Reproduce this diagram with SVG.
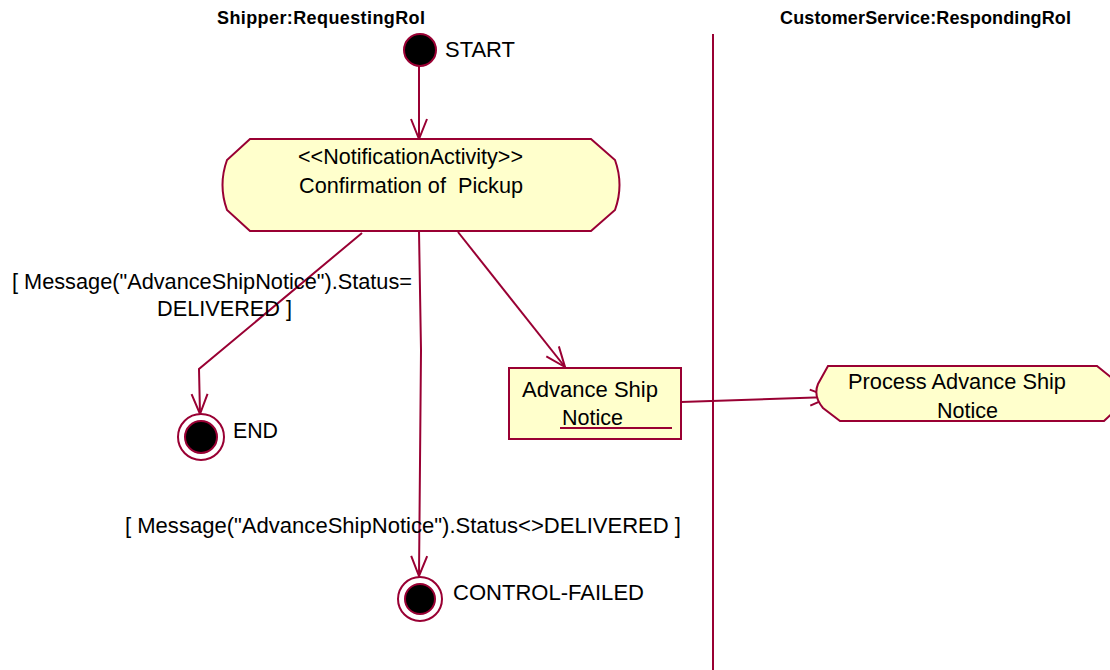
<svg xmlns="http://www.w3.org/2000/svg" width="1110" height="670" viewBox="0 0 1110 670">
  <style>
    .lane { font-family: "Liberation Sans", Arial, sans-serif; font-size: 18px; font-weight: bold; fill: #000; }
    .lbl { font-family: "Liberation Sans", Arial, sans-serif; font-size: 21.5px; fill: #000; white-space: pre; }
    .edge { fill: none; stroke: #990033; stroke-width: 2; }
    .shape { fill: #FFFFCC; stroke: #990033; stroke-width: 2; }
    .dot { fill: #000; stroke: #990033; stroke-width: 2; }
    .ring { fill: #fff; stroke: #990033; stroke-width: 2; }
  </style>
  <defs>
    <marker id="open" viewBox="-22 -10 24 20" refX="0" refY="0" markerWidth="24" markerHeight="20" markerUnits="userSpaceOnUse" orient="auto">
      <path d="M-20,-8 L0,0 L-20,8" fill="none" stroke="#990033" stroke-width="2"/>
    </marker>
  </defs>

  <rect width="1110" height="670" fill="#fff"/>

  <!-- swimlanes -->
  <g id="lanes">
    <text class="lane" x="217" y="24" textLength="208" lengthAdjust="spacing">Shipper:RequestingRol</text>
    <text class="lane" x="780" y="23.5" textLength="291" lengthAdjust="spacing">CustomerService:RespondingRol</text>
    <line x1="713" y1="34" x2="713" y2="670" stroke="#990033" stroke-width="2"/>
  </g>

  <!-- connectors -->
  <g id="connectors">
    <path class="edge" d="M419,66 L419,139" marker-end="url(#open)"/>
    <path class="edge" d="M362,233 L199,369 L200,414" marker-end="url(#open)"/>
    <path class="edge" d="M458,232 L565,367" marker-end="url(#open)"/>
    <path class="edge" d="M419,231 L421,350 L419,576" marker-end="url(#open)"/>
    <path class="edge" d="M681,402 L830,397" marker-end="url(#open)"/>
    <text class="lbl" x="12" y="289" textLength="400" lengthAdjust="spacingAndGlyphs">[ Message("AdvanceShipNotice").Status=</text>
    <text class="lbl" x="157" y="316" textLength="135" lengthAdjust="spacingAndGlyphs">DELIVERED ]</text>
    <text class="lbl" x="125" y="533" textLength="556" lengthAdjust="spacingAndGlyphs">[ Message("AdvanceShipNotice").Status&lt;&gt;DELIVERED ]</text>
  </g>

  <g id="start">
    <circle class="dot" cx="420" cy="50" r="16"/>
    <text class="lbl" x="445" y="57" textLength="70" lengthAdjust="spacingAndGlyphs">START</text>
  </g>

  <g id="confirmation-of-pickup">
    <path class="shape" d="M250,139 L591,139 L615,160 Q624,185 615,210 L591,231 L250,231 L227,210 Q218,185 227,160 Z"/>
    <text class="lbl" x="298" y="164" textLength="225" lengthAdjust="spacingAndGlyphs">&lt;&lt;NotificationActivity&gt;&gt;</text>
    <text class="lbl" x="299" y="193" textLength="224" lengthAdjust="spacingAndGlyphs">Confirmation of  Pickup</text>
  </g>

  <g id="end">
    <circle class="ring" cx="201" cy="437" r="23"/>
    <circle class="dot" cx="201" cy="437" r="16"/>
    <text class="lbl" x="233" y="438" textLength="45" lengthAdjust="spacingAndGlyphs">END</text>
  </g>

  <g id="control-failed">
    <circle class="ring" cx="420" cy="599" r="22"/>
    <circle class="dot" cx="420" cy="599" r="15"/>
    <text class="lbl" x="453" y="600" textLength="191" lengthAdjust="spacingAndGlyphs">CONTROL-FAILED</text>
  </g>

  <g id="advance-ship-notice">
    <rect class="shape" x="509" y="368" width="172" height="71"/>
    <text class="lbl" x="522" y="397" textLength="136" lengthAdjust="spacingAndGlyphs">Advance Ship</text>
    <text class="lbl" x="562" y="425" textLength="61" lengthAdjust="spacingAndGlyphs">Notice</text>
    <line x1="560" y1="428" x2="672" y2="428" stroke="#990033" stroke-width="2"/>
  </g>

  <g id="process-advance-ship-notice">
    <path class="shape" d="M828,366 L1097,366 L1118,383 Q1124,396 1118,408 L1104,421 L840,421 L823,408 Q813,396 818,384 Z"/>
    <text class="lbl" x="848" y="389" textLength="218" lengthAdjust="spacingAndGlyphs">Process Advance Ship</text>
    <text class="lbl" x="937" y="418" textLength="61" lengthAdjust="spacingAndGlyphs">Notice</text>
  </g>
</svg>
